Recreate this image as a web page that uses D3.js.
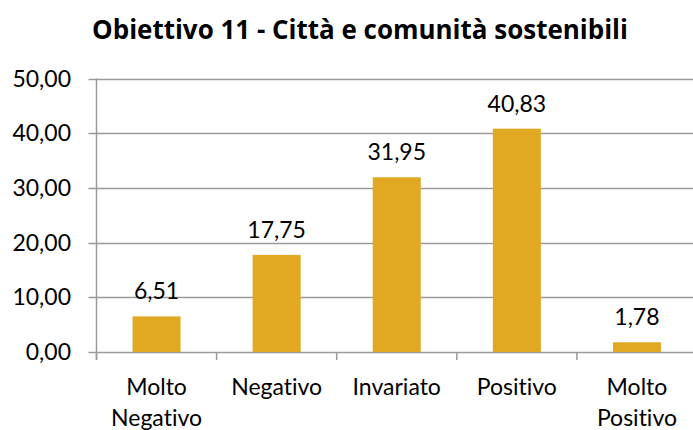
<!DOCTYPE html>
<html>
<head>
<meta charset="utf-8">
<script src="https://cdn.jsdelivr.net/npm/d3@7"></script>
<style>
  html, body { margin: 0; padding: 0; background: #fff; }
  svg { display: block; }
  text { font-family: Lato, "Open Sans", sans-serif; fill: #000;
         font-variant-ligatures: none; font-feature-settings: "liga" 0, "clig" 0, "dlig" 0; }
</style>
</head>
<body>
<svg id="chart" width="693" height="430"></svg>
<script>
// Obiettivo 11 – distribution of assessments
const title = "Obiettivo 11 - Città e comunità sostenibili";
const categories = [["Molto", "Negativo"], ["Negativo"], ["Invariato"], ["Positivo"], ["Molto", "Positivo"]];
const values = [6.51, 17.75, 31.95, 40.83, 1.78];
const yTicks = [0, 10, 20, 30, 40, 50];

const W = 693, H = 430;
const margin = { left: 96.5, right: -4, top: 78.5, bottom: 78.5 };
const svg = d3.select("#chart");

const fmt = v => d3.format(".2f")(v).replace(".", ",");

const x = d3.scaleBand()
  .domain(d3.range(values.length))
  .range([margin.left, W - margin.right])
  .paddingInner(0.6)
  .paddingOuter(0.3);

const y = d3.scaleLinear()
  .domain([0, 50])
  .range([H - margin.bottom + 0.5, margin.top]);

// horizontal gridlines with the little outside tick
svg.append("g")
  .selectAll("line")
  .data(yTicks)
  .join("line")
  .attr("x1", margin.left - 8)
  .attr("x2", W)
  .attr("y1", d => Math.round(y(d)) + 0.5)
  .attr("y2", d => Math.round(y(d)) + 0.5)
  .attr("stroke", "#9a9a9a")
  .attr("stroke-width", 1.5);

// y tick labels
svg.append("g")
  .selectAll("text")
  .data(yTicks)
  .join("text")
  .attr("x", 71)
  .attr("y", d => y(d) + 8)
  .attr("text-anchor", "end")
  .style("font-size", "23px")
  .text(fmt);

// bars
svg.append("g")
  .selectAll("rect")
  .data(values)
  .join("rect")
  .attr("x", (d, i) => x(i))
  .attr("width", x.bandwidth())
  .attr("y", d => y(d))
  .attr("height", d => y(0) - y(d))
  .attr("fill", "#E1A921");

// value labels
svg.append("g")
  .selectAll("text")
  .data(values)
  .join("text")
  .attr("x", (d, i) => x(i) + x.bandwidth() / 2)
  .attr("y", d => y(d) - 17)
  .attr("text-anchor", "middle")
  .style("font-size", "23px")
  .text(fmt);

// y axis line
svg.append("line")
  .attr("x1", margin.left).attr("x2", margin.left)
  .attr("y1", y(50)).attr("y2", y(0) + 8)
  .attr("stroke", "#9a9a9a")
  .attr("stroke-width", 1.5);

// category separators on the x axis
const step = x.step();
const bounds = d3.range(values.length).map(i => x(i) - step * 0.3);
svg.append("g")
  .selectAll("line")
  .data(bounds)
  .join("line")
  .attr("x1", d => d).attr("x2", d => d)
  .attr("y1", y(0)).attr("y2", y(0) + 8)
  .attr("stroke", "#9a9a9a")
  .attr("stroke-width", 1.5);

// category labels
const cat = svg.append("g")
  .selectAll("text")
  .data(categories)
  .join("text")
  .attr("x", (d, i) => x(i) + x.bandwidth() / 2)
  .attr("y", 395)
  .attr("text-anchor", "middle")
  .style("font-size", "23px");
cat.selectAll("tspan")
  .data(d => d)
  .join("tspan")
  .attr("x", function () { return this.parentNode.getAttribute("x"); })
  .attr("dy", (d, i) => i === 0 ? 0 : 31)
  .text(d => d);

// title
const t = svg.append("text")
  .attr("x", 360)
  .attr("y", 39)
  .attr("text-anchor", "middle")
  .style("font-size", "28px")
  .style("font-weight", "bold")
  .style("font-family", "'Open Sans', Lato, sans-serif")
  .text(title);
const tw = t.node().getComputedTextLength();
t.style("font-size", (28 * 536 / tw).toFixed(2) + "px");
</script>
</body>
</html>
